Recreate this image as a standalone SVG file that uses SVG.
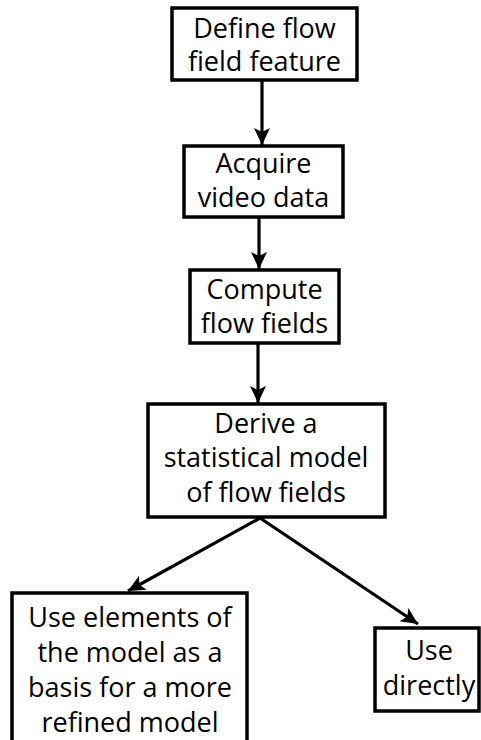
<svg xmlns="http://www.w3.org/2000/svg" width="481" height="740" viewBox="0 0 481 740">
<style>
.box{fill:#fff;stroke:#000;stroke-width:3.5}
.lbl{font-family:"Open Sans","Noto Sans","Liberation Sans",sans-serif;font-size:27px;fill:#000;text-anchor:middle}
.edge{fill:none;stroke:#000;stroke-width:3.2}
</style>
<defs>
<marker id="ah" markerUnits="userSpaceOnUse" markerWidth="18" markerHeight="18" viewBox="0 0 18 18" refX="17" refY="9" orient="auto">
<path d="M0,1 L17,9 L0,17 L4,9 z" fill="#000"/>
</marker>
</defs>
<rect width="481" height="740" fill="#fff"/>
<g id="connectors">
<line class="edge" x1="262" y1="80" x2="262" y2="145" marker-end="url(#ah)"/>
<line class="edge" x1="259" y1="217" x2="259" y2="269" marker-end="url(#ah)"/>
<line class="edge" x1="258" y1="343" x2="258" y2="403" marker-end="url(#ah)"/>
<line class="edge" x1="260" y1="518" x2="128" y2="591" marker-end="url(#ah)"/>
<line class="edge" x1="260" y1="518" x2="418" y2="624" marker-end="url(#ah)"/>
</g>
<g id="n1">
<rect class="box" x="172" y="8" width="185" height="72"/>
<text class="lbl" x="264.5" y="38">Define flow</text>
<text class="lbl" x="264.5" y="71">field feature</text>
</g>
<g id="n2">
<rect class="box" x="184" y="146" width="159" height="71"/>
<text class="lbl" x="263.5" y="173">Acquire</text>
<text class="lbl" x="263.5" y="207">video data</text>
</g>
<g id="n3">
<rect class="box" x="190" y="270" width="149" height="73"/>
<text class="lbl" x="264.5" y="299">Compute</text>
<text class="lbl" x="264.5" y="333">flow fields</text>
</g>
<g id="n4">
<rect class="box" x="148" y="404" width="237" height="113"/>
<text class="lbl" x="266" y="433">Derive a</text>
<text class="lbl" x="266" y="467">statistical model</text>
<text class="lbl" x="266" y="502">of flow fields</text>
</g>
<g id="n5">
<rect class="box" x="12" y="593" width="235" height="160"/>
<text class="lbl" x="130" y="627">Use elements of</text>
<text class="lbl" x="130" y="662">the model as a</text>
<text class="lbl" x="130" y="697">basis for a more</text>
<text class="lbl" x="130" y="732">refined model</text>
</g>
<g id="n6">
<rect class="box" x="375" y="628" width="104" height="83"/>
<text class="lbl" x="429" y="660">Use</text>
<text class="lbl" x="429" y="695">directly</text>
</g>
</svg>
